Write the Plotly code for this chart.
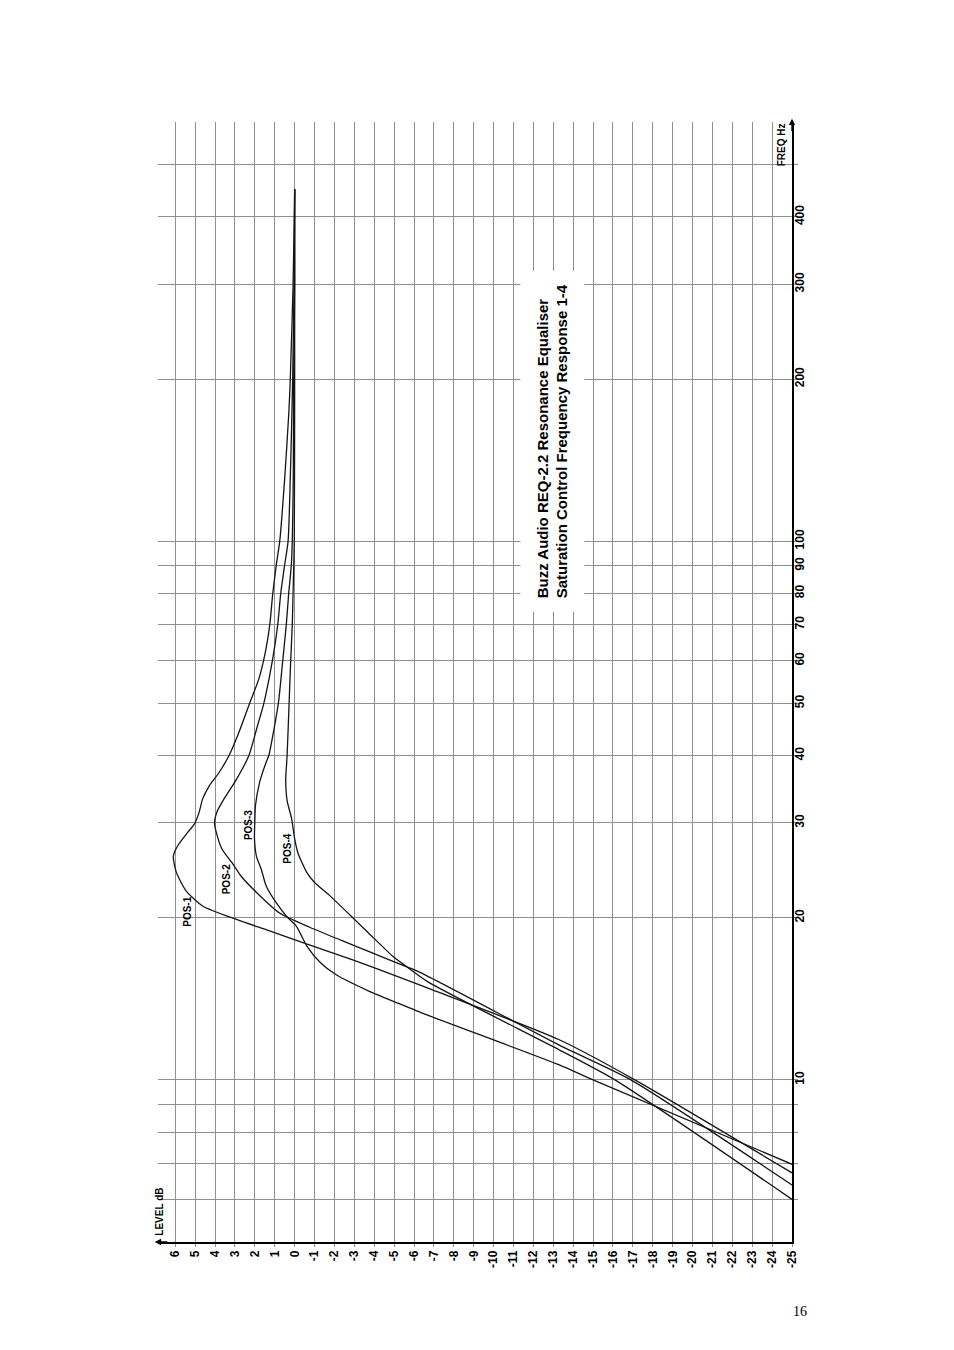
import numpy as np
import plotly.graph_objects as go

# ---------------- data ----------------
level_ticks = list(range(6, -26, -1))
level_labels = [str(v) for v in level_ticks]

freq_ticks = [6, 7, 8, 9, 10, 20, 30, 40, 50, 60, 70, 80, 90, 100, 200, 300, 400, 500]
freq_labels = ["", "", "", "", "10", "20", "30", "40", "50", "60", "70", "80", "90",
               "100", "200", "300", "400", ""]

pos1_freq = [450, 400, 300, 200, 174, 131, 100, 90, 80, 70, 62.3, 55.5, 49.6, 44.2, 40.0,
             37.2, 35.1, 33.2, 31.4, 29.8, 28.8, 27.2, 26.0, 24.3, 22.4, 21.0, 19.85, 18.9,
             17.97, 16.7, 15.46, 14.7, 11.87, 10.0, 6.72]
pos1_db = [0.0, 0.02, 0.08, 0.22, 0.29, 0.5, 0.75, 0.93, 1.1, 1.25, 1.47, 1.8, 2.3, 2.8, 3.3,
           3.8, 4.3, 4.63, 4.8, 5.05, 5.38, 5.88, 6.1, 5.95, 5.45, 4.61, 2.93, 1.26,
           -0.41, -2.92, -5.35, -6.9, -13.3, -17.1, -25.0]

pos2_freq = [450, 300, 200, 131, 100, 90, 80, 70, 60, 50, 45, 40, 36, 33, 31.5, 30.0, 28.8,
             26.8, 25.3, 23.9, 22.3, 20.4, 19.2, 18.15, 17.2, 16.45, 15.9, 11.6, 10.0, 6.38]
pos2_db = [0.0, 0.03, 0.1, 0.22, 0.33, 0.51, 0.7, 0.85, 1.12, 1.55, 1.9, 2.3, 2.95, 3.6, 3.9,
           4.03, 3.94, 3.65, 3.15, 2.7, 1.93, 0.76, -0.75, -2.35, -3.9, -5.2, -6.2, -13.3,
           -16.9, -25.0]

pos3_freq = [450, 300, 200, 131, 100, 90, 80, 70, 60, 50, 40, 38.9, 35.7, 32.3, 30.5, 28.0,
             26.0, 24.6, 22.9, 21.3, 20.0, 19.3, 17.7, 16.5, 15.7, 14.6, 13.9, 13.2, 10.66,
             10.0, 6.97]
pos3_db = [0.0, 0.0, 0.05, 0.07, 0.12, 0.17, 0.3, 0.42, 0.6, 0.82, 1.3, 1.43, 1.76, 1.97, 2.0,
           2.02, 1.92, 1.68, 1.43, 0.92, 0.35, -0.08, -0.62, -1.3, -2.05, -3.75, -5.15,
           -6.65, -13.3, -15.0, -25.0]

pos4_freq = [450, 200, 100, 80, 70, 60, 50, 40, 36, 33, 30.5, 28.0, 26.4, 24.3, 23.25, 22.0,
             20.0, 18.75, 17.0, 16.4, 15.2, 11.37, 10.0, 6.0]
pos4_db = [0.0, 0.0, 0.02, 0.08, 0.12, 0.2, 0.28, 0.38, 0.45, 0.38, 0.15, 0.0, -0.16, -0.6,
           -1.0, -1.75, -2.92, -3.7, -4.9, -5.45, -6.7, -13.3, -16.1, -25.0]

series = [
    ("POS-1", pos1_freq, pos1_db),
    ("POS-2", pos2_freq, pos2_db),
    ("POS-3", pos3_freq, pos3_db),
    ("POS-4", pos4_freq, pos4_db),
]

# label anchor positions (level dB, frequency Hz)
label_level = [5.39, 3.45, 2.35, 0.36]
label_freq = [20.55, 23.57, 29.7, 26.8]

title_lines = ["Buzz Audio REQ-2.2 Resonance Equaliser",
               "Saturation Control Frequency Response 1-4"]
title_level = -12.94
title_freq = 153.3

# ---------------- figure ----------------
fig = go.Figure()
for name, f, db in series:
    fig.add_trace(go.Scatter(
        x=db, y=f, mode="lines", name=name,
        line=dict(color="#141414", width=1.3, shape="spline", smoothing=0.6),
        showlegend=False, hoverinfo="skip"))

tick_font = dict(family="Liberation Sans Narrow, Arial Narrow, Liberation Sans, Arial",
                 size=12, color="#000", weight="bold")
grid_col = "#8e8e8e"

fig.update_xaxes(
    range=[6.87, -25], tickmode="array", tickvals=level_ticks, ticktext=level_labels,
    tickangle=-90, tickfont=tick_font, showgrid=True, gridcolor=grid_col, gridwidth=1,
    zeroline=False, showline=True, linecolor="#000", linewidth=1.6,
    ticks="outside", ticklen=3, tickcolor=grid_col, ticklabelstandoff=-1)

fig.update_yaxes(
    type="log", range=[np.log10(5), np.log10(600)], side="right", tickmode="array",
    tickvals=freq_ticks, ticktext=freq_labels, tickangle=-90, tickfont=tick_font,
    showgrid=True, gridcolor=grid_col, gridwidth=1, zeroline=False, showline=True,
    linecolor="#000", linewidth=1.6, ticks="outside", ticklen=4, tickcolor=grid_col,
    ticklabelstandoff=-8)

# darker decade grid lines
for dec in [10, 100]:
    fig.add_shape(type="line", xref="paper", x0=0, x1=1.008, yref="y",
                  y0=np.log10(dec), y1=np.log10(dec),
                  line=dict(color="#1a1a1a", width=1.3), layer="below")

ann = []
lab_font = dict(family="Liberation Sans, Arial", size=10, color="#000", weight="bold")
for (name, _, _), lx, lf in zip(series, label_level, label_freq):
    ann.append(dict(x=lx, y=np.log10(lf), xref="x", yref="y", text=name, showarrow=False,
                    textangle=-90, font=lab_font, xanchor="center", yanchor="middle"))

ann.append(dict(x=title_level, y=np.log10(title_freq), xref="x", yref="y",
                text="<br>".join(title_lines), showarrow=False, textangle=-90, align="left",
                font=dict(family="Liberation Sans, Arial", size=15, color="#000",
                          weight="bold"),
                bgcolor="#ffffff", borderpad=13, xanchor="center", yanchor="middle"))

ann.append(dict(x=0.003, y=0.027, xref="paper", yref="paper", text="LEVEL dB",
                showarrow=False, textangle=-90, font=lab_font,
                xanchor="center", yanchor="middle"))
ann.append(dict(x=0.984, y=0.980, xref="paper", yref="paper", text="FREQ Hz",
                showarrow=False, textangle=-90, font=lab_font,
                xanchor="center", yanchor="middle"))
# axis arrows
ann.append(dict(x=-0.005, y=0, xref="paper", yref="paper", text="", showarrow=True,
                ax=14, ay=0, arrowhead=2, arrowsize=0.9, arrowwidth=1.4, arrowcolor="#000"))
ann.append(dict(x=1, y=1.003, xref="paper", yref="paper", text="", showarrow=True,
                ax=0, ay=14, arrowhead=2, arrowsize=0.9, arrowwidth=1.4, arrowcolor="#000"))
# page number
ann.append(dict(x=1.0126, y=-0.062, xref="paper", yref="paper", text="16",
                showarrow=False, font=dict(family="Liberation Serif, Times New Roman",
                                           size=14, color="#000"),
                xanchor="center", yanchor="middle"))

fig.update_layout(
    width=954, height=1350, autosize=False,
    margin=dict(l=150, r=170, t=114, b=116, pad=0),
    paper_bgcolor="#ffffff", plot_bgcolor="#ffffff",
    annotations=ann, showlegend=False)

fig.write_html("out.html")
